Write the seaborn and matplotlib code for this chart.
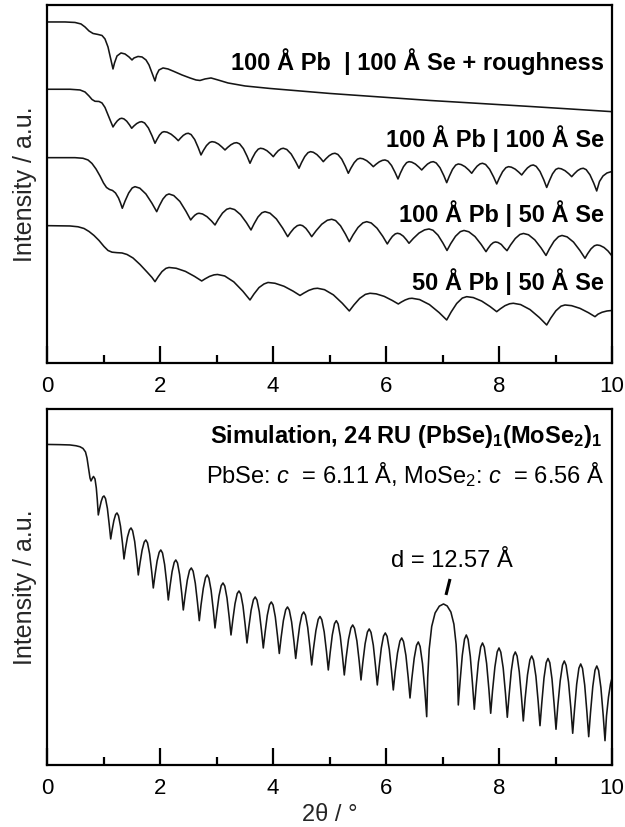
import matplotlib
matplotlib.use("Agg")
import matplotlib.pyplot as plt
import seaborn as sns
import pandas as pd
import numpy as np

# ---- digitisation calibration (reference picture pixels -> data units) ----
X0_PX = 47.0          # pixel column of 2theta = 0
PX_PER_DEG = 56.5     # pixels per degree 2theta
TOP_BASE = 363.0      # pixel row of the top panel x-axis (intensity 0, a.u.)
BOT_BASE = 765.0      # pixel row of the bottom panel x-axis

curve_rough = [(48,22),(65,22),(75,22.5),(81,24),(85,27),(89,31),(93,33.5),(98,34.5),(102,35.5),(105,39),
 (108,47),(110.5,58),(113,69),(114.5,63),(117,56),(121,53),(125,54),(129,57),(132,60),(134,58),(138,56.5),
 (142,57),(146,60),(149,65),(152,73),(155,81),(156.5,75),(159,70),(163,68),(168,69),(174,71.5),(182,75),
 (190,78),(196,80),(200,80.5),(205,79),(211,78),(218,80),(228,83),(245,86),(270,88.5),(300,91),(330,93.5),
 (380,97),(430,100.5),(480,103.5),(530,106.5),(570,109),(612,111.7)]

curve_100_100 = [(48,89.3),(70,89.3),(80,90),(85,92),(89,96),(92,99.5),(95,101.3),(99,101.5),(102,103),(105,107.5),(108,115),(110.5,121),(113,127),
 (114.9,124),(117.4,120.8),(119.8,118.8),(121.7,118.3),(123.9,118.9),(126.7,121.2),(129.5,124.9),(131.7,128.3),
 (133.9,126),(136.7,123.6),(139.5,122.1),(141.7,121.7),(144.6,123),(148.4,128),(152.1,136),(155,143.3),
 (157,139.4),(159.5,135.1),(162,132.4),(164,131.7),(167.1,132.2),(171.2,134.3),(175.2,137.6),(178.3,140.7),
 (180.5,138.2),(183.3,135.4),(186.1,133.7),(188.3,133.3),(191.1,134.6),(194.7,139.6),(198.2,147.6),(201,155),
 (203.4,150.5),(206.5,145.6),(209.6,142.5),(212,141.7),(214.9,142.2),(218.5,144.1),(222.1,147.2),(225,150),
 (227.6,147.5),(230.9,144.8),(234.1,143.1),(236.7,142.7),(239.6,143.9),(243.4,148.7),(247.1,156.3),(250,163.3),
 (252.3,158.2),(255.3,152.7),(258.2,149.2),(260.5,148.3),(263.3,148.8),(266.9,150.7),(270.5,153.8),(273.3,156.7),
 (275.5,153.8),(278.3,150.7),(281.1,148.8),(283.3,148.3),(286.8,149.5),(291.2,154.1),(295.5,161.5),(299,168.3),
 (301.5,162.7),(304.8,156.5),(308,152.7),(310.5,151.7),(313.3,152.3),(316.9,154.6),(320.5,158.3),(323.3,161.7),
 (325.9,158.8),(329.2,155.7),(332.4,153.8),(335,153.3),(337.9,154.5),(341.7,159.1),(345.4,166.5),(348.3,173.3),
 (350.9,168.2),(354.2,162.7),(357.4,159.2),(360,158.3),(362.9,158.8),(366.7,160.7),(370.4,163.8),(373.3,166.7),
 (375.9,164.4),(379.2,161.9),(382.4,160.4),(385,160),(387.9,161.1),(391.5,165.5),(395.1,172.5),(398,179),
 (400.4,173.1),(403.5,166.7),(406.6,162.7),(409,161.7),(411.8,162.2),(415.4,164.1),(418.9,167.2),(421.7,170),
 (424.3,167.2),(427.5,164.1),(430.7,162.2),(433.3,161.7),(436.2,163),(440,167.8),(443.8,175.6),(446.7,182.7),
 (449.3,176.3),(452.5,169.4),(455.7,165.1),(458.3,164),(461.2,164.6),(465,166.7),(468.8,170.1),(471.7,173.3),
 (474.1,169.9),(477.1,166.2),(480.1,163.9),(482.5,163.3),(485.6,164.5),(489.6,169.3),(493.6,177),(496.7,184),
 (499.3,178.1),(502.6,171.7),(505.9,167.7),(508.5,166.7),(511.4,167.2),(515.1,169.1),(518.8,172.2),(521.7,175),
 (524.3,171.6),(527.5,167.9),(530.7,165.6),(533.3,165),(536.2,166.4),(540,171.5),(543.8,179.9),(546.7,187.5),
 (549.3,181),(552.5,173.9),(555.7,169.5),(558.3,168.3),(561.2,168.8),(565,170.7),(568.8,173.8),(571.7,176.7),
 (574.3,173.8),(577.5,170.7),(580.7,168.8),(583.3,168.3),(586.2,169.7),(590,174.9),(593.8,183.3),(596.7,191),
 (599.5,181.5),(603,176),(607,173),(612,171.5)]

curve_100_50 = [(48,157.7),(75,157.7),(83,158.3),(88,160),(92,163.5),(96,169),(100,176),(103.5,183),(106.5,187.5),
 (109.5,189.5),(112.5,190.5),(115.5,193),(118.5,198),(120.5,203),(122.3,208.3),
 (125.1,201),(128.7,193),(132.2,188),(135,186.7),(139.8,188.2),(145.9,194),(151.9,203.2),(156.7,211.7),
 (159.4,205.7),(162.9,199.1),(166.3,195.1),(169,194),(173.8,195.6),(179.9,201.5),(185.9,211.2),(190.7,220),
 (192.5,217.7),(194.9,215.2),(197.2,213.7),(199,213.3),(202.5,214),(207,216.7),(211.5,221),(215,225),
 (218.3,219.3),(222.5,213.1),(226.7,209.3),(230,208.3),(234.6,209.6),(240.5,214.6),(246.4,222.6),(251,230),
 (254.1,223.8),(258,217),(261.9,212.8),(265,211.7),(270,213.2),(276.4,219),(282.7,228.2),(287.7,236.7),
 (290.4,232.7),(293.9,228.4),(297.3,225.7),(300,225),(302.6,225.7),(305.9,228.4),(309.1,232.7),(311.7,236.7),
 (316.1,230.8),(321.7,224.3),(327.3,220.3),(331.7,219.3),(335.6,220.6),(340.5,225.8),(345.4,234.1),(349.3,241.7),
 (353.1,234.9),(358,227.5),(362.9,222.9),(366.7,221.7),(371.2,223),(377,228.2),(382.8,236.4),(387.3,244),
 (389.5,240.4),(392.4,236.4),(395.3,233.9),(397.5,233.3),(400,233.9),(403.3,236.2),(406.5,239.9),(409,243.3),
 (413.4,238.4),(419,233.1),(424.6,229.9),(429,229),(433,230.3),(438,235.2),(443,243.2),(447,250.5),
 (450.7,243.7),(455.5,236.3),(460.3,231.7),(464,230.5),(468.8,231.8),(475,236.6),(481.2,244.5),(486,251.7),
 (488.1,248.4),(490.8,244.8),(493.4,242.6),(495.5,242),(498,242.5),(501.3,244.5),(504,247.7),(507,250.7),
 (510.6,244.9),(515.3,238.5),(519.9,234.5),(523.5,233.5),(528.5,234.8),(534.8,239.9),(541.1,248),(546,255.5),
 (549.5,248.7),(554,241.3),(558.5,236.7),(562,235.5),(567.1,236.9),(573.5,242.1),(579.9,250.5),(585,258.3),
 (587.6,253.8),(591,248.9),(594.4,245.8),(597,245),(600,245.5),(604,247.5),(608,251),(612,256)]

curve_50_50 = [(48,225.7),(70,226),(78,226.8),(84,228.5),(89,231.5),(94,235.5),(99,240.5),(104,246.5),(108,250.5),
 (112,252.2),(117,252.7),(122,253),(127,254.5),(133,258),(140,264.5),(147,272),(152,277.5),(155,281.7),
 (158.1,276.9),(162,271.6),(165.9,268.4),(169,267.5),(176.2,268.3),(185.4,271.4),(194.5,276.4),(201.7,281),
 (205.2,278.8),(209.6,276.4),(214,274.9),(217.5,274.5),(224.7,276),(233.8,281.9),(242.9,291.3),(250,300),
 (254,294),(259,287.6),(264,284),(268,282.5),(275,283.3),(284,286.3),(293,291.1),(300,295.5),
 (303.9,293.1),(308.8,290.4),(313.7,288.7),(317.5,288.3),(324.5,289.7),(333.4,294.9),(342.3,303.3),(349.3,311),
 (353.9,305),(359.7,298.4),(365.4,294.4),(370,293.3),(376.2,293.9),(384.2,296.4),(392.1,300.4),(398.3,304),
 (401.3,302.1),(405.2,300),(409,298.6),(412,298.3),(419.6,299.6),(429.4,304.6),(439.1,312.6),(446.7,320),
 (451.1,312.1),(456.7,303.5),(462.3,298.1),(466.7,296.7),(473.3,297.6),(481.7,301.1),(490.1,306.6),(496.7,311.7),
 (500.4,308.8),(505,305.7),(509.6,303.8),(513.3,303.3),(520.6,304.6),(530,309.6),(539.4,317.6),(546.7,325),
 (550.7,318.2),(555.9,310.8),(561,306.2),(565,305),(571.6,305.7),(580,308.4),(588.4,312.7),(595,316.7),
 (598,314.2),(602,312.3),(607,311),(612,310.5)]

curve_sim = [(48,444.5),(60,444.7),(70,445),(76,445.8),(80,446.8),(83,448.5),(85.5,452),(87,458),(88.5,468),(90,478),
 (91,481),(92.5,478),(93.5,476.5),(95,479),(96.3,488),(97.3,500),(98.3,515),
 (99.6,508.5),(101.2,501.5),(102.7,497.1),(104,496),(105.5,498.6),(107.4,508.5),(109.2,524.4),(110.7,539),
 (112.1,530.2),(113.9,520.5),(115.6,514.6),(117,513),(118.5,515.8),(120.5,526.3),(122.5,543.4),(124,559),
 (125.5,548.5),(127.5,537),(129.5,529.9),(131,528),(132.6,530.8),(134.7,541.6),(136.7,559),(138.3,575),
 (140,563.1),(142.1,550.2),(144.2,542.1),(145.8,540),(147.5,542.9),(149.6,553.9),(151.7,571.7),(153.3,588),
 (155,575.1),(157.1,561),(159.2,552.3),(160.8,550),(162.5,553),(164.6,564.5),(166.7,583),(168.3,600),
 (170,586.4),(172.1,571.6),(174.2,562.4),(175.8,560),(177.5,563),(179.6,574.5),(181.7,593),(183.3,610),
 (185.1,595.7),(187.3,580.2),(189.5,570.5),(191.3,568),(193.1,571.2),(195.3,583.3),(197.5,602.8),(199.3,620.7),
 (201,605.2),(203.3,588.3),(205.5,577.7),(207.2,575),(208.9,578.2),(211.1,590.4),(213.3,610),(215,628),
 (216.8,612.7),(219,596),(221.2,585.7),(223,583),(224.8,586.1),(227,598.1),(229.2,617.3),(231,635),
 (232.8,620),(235,603.8),(237.2,593.6),(239,591),(240.8,594.1),(243,606.1),(245.2,625.3),(247,643),
 (248.8,627.4),(251.1,610.3),(253.4,599.8),(255.2,597),(257,600.1),(259.3,611.8),(261.5,630.7),(263.3,648),
 (265.1,632.4),(267.3,615.3),(269.5,604.8),(271.3,602),(273.1,605.1),(275.3,616.9),(277.5,636),(279.3,653.5),
 (281.1,637.7),(283.4,620.5),(285.7,609.8),(287.5,607),(289.3,610.1),(291.6,621.9),(293.9,641),(295.7,658.5),
 (297.5,642.7),(299.7,625.5),(301.9,614.8),(303.7,612),(305.5,615.2),(307.7,627.4),(309.9,647),(311.7,665),
 (313.5,648.5),(315.9,630.6),(318.2,619.4),(320,616.5),(321.8,619.7),(324.2,632),(326.5,651.8),(328.3,670),
 (330.1,653.2),(332.3,635),(334.5,623.7),(336.3,620.7),(338.1,624),(340.3,636.4),(342.5,656.5),(344.3,675),
 (346.1,658),(348.5,639.5),(350.9,628),(352.7,625),(354.5,628.3),(356.9,641),(359.2,661.3),(361,680),
 (362.8,662.7),(365.1,643.8),(367.4,632.1),(369.2,629),(371,632.4),(373.3,645.2),(375.5,666),(377.3,685),
 (379.1,667.3),(381.3,648.1),(383.5,636.1),(385.3,633),(387.1,636.4),(389.3,649.5),(391.5,670.6),(393.3,690),
 (395.1,672.3),(397.5,653.1),(399.9,641.1),(401.7,638),(403.5,641.6),(405.9,655.4),(408.2,677.6),(410,698),
 (411.8,679),(414.2,658.2),(416.5,645.4),(418.3,642),(420.1,646.5),(422.5,663.7),(424.9,691.3),(426.7,716.7),
 (427.7,677.3),(429.2,649.1),(431.7,626.5),(435.1,613),(439.3,606.2),(443.5,604),
 (447.2,606),(450.9,612.1),(453.9,624.2),(456.1,644.4),(457.4,669.6),(458.3,705),
 (460.1,681.2),(462.3,655.3),(464.5,639.2),(466.3,635),(468.1,639.5),(470.3,656.5),(472.5,684),(474.3,709.3),
 (476.1,686.8),(478.4,662.2),(480.7,647),(482.5,643),(484.3,647.2),(486.6,663.4),(488.9,689.4),(490.7,713.3),
 (492.5,691.1),(494.9,667),(497.2,651.9),(499,648),(500.8,652.2),(503.2,668.1),(505.5,693.7),(507.3,717.3),
 (509.1,695.1),(511.3,670.9),(513.5,655.9),(515.3,652),(517.1,656.1),(519.3,672),(521.5,697.5),(523.3,721),
 (525.1,698.9),(527.5,674.9),(529.9,659.9),(531.7,656),(533.5,660.2),(535.9,676.2),(538.2,702),(540,725.7),
 (541.8,702.9),(544,678),(546.2,662.6),(548,658.5),(549.8,662.7),(552,679),(554.2,705.2),(556,729.3),
 (557.8,706.1),(560.2,680.8),(562.5,665.1),(564.3,661),(566.1,665.3),(568.5,682),(570.9,708.7),(572.7,733.3),
 (574.5,709.7),(576.7,684.1),(578.9,668.2),(580.7,664),(582.5,668.4),(584.7,685.1),(586.9,712),(588.7,736.7),
 (590.5,712.7),(592.8,686.5),(595,670.2),(596.8,666),(598.6,670.5),(600.9,687.7),(603.2,715.3),(605,740.7),
 (606.5,716),(608.5,697),(610.5,684),(612,678)]

top_labels = ["100 Å Pb  | 100 Å Se + roughness", "100 Å Pb | 100 Å Se",
              "100 Å Pb | 50 Å Se", "50 Å Pb | 50 Å Se"]
sim_title = r"Simulation, 24 RU (PbSe)$_\mathbf{1}$(MoSe$_\mathbf{2}$)$_\mathbf{1}$"
sim_params = r"PbSe: $c$  = 6.11 Å, MoSe$_2$: $c$  = 6.56 Å"
peak_label = "d = 12.57 Å"
x_major = [0, 2, 4, 6, 8, 10]
x_minor = [1, 3, 5, 7, 9]

sns.set_theme(style="ticks")
plt.rcParams.update({
    "font.family": ["Liberation Sans", "DejaVu Sans"],
    "mathtext.fontset": "custom",
    "mathtext.rm": "Liberation Sans",
    "mathtext.it": "Liberation Sans:italic",
    "mathtext.bf": "Liberation Sans:bold",
    "axes.edgecolor": "black",
    "xtick.color": "black",
    "text.color": "black",
})

FS = 17

def to_df(pts, base):
    a = np.array(pts, dtype=float)
    return pd.DataFrame({"two_theta": (a[:, 0] - X0_PX) / PX_PER_DEG,
                         "intensity": base - a[:, 1]})

fig = plt.figure(figsize=(6.25, 8.27), dpi=100)
ax1 = fig.add_axes([0.0752, 0.5611, 0.904, 0.4329])
ax2 = fig.add_axes([0.0752, 0.0750, 0.904, 0.4305])

LC = "#151515"
for pts in [curve_rough, curve_100_100, curve_100_50, curve_50_50]:
    sns.lineplot(data=to_df(pts, TOP_BASE), x="two_theta", y="intensity", ax=ax1,
                 color=LC, lw=1.15, sort=False, estimator=None)
sns.lineplot(data=to_df(curve_sim, BOT_BASE), x="two_theta", y="intensity", ax=ax2,
             color=LC, lw=1.15, sort=False, estimator=None)

for ax, top in [(ax1, 358), (ax2, 356)]:
    ax.set_xlim(0, 10)
    ax.set_ylim(0, top)
    ax.set_yticks([])
    ax.set_xticks(x_major)
    ax.set_xticks(x_minor, minor=True)
    ax.set_xticklabels([str(v) for v in x_major])
    ax.tick_params(axis="x", which="major", direction="in", length=12, width=1.6,
                   labelsize=16, pad=9.5, top=False)
    ax.tick_params(axis="x", which="minor", direction="in", length=6, width=1.6, top=False)
    for s in ax.spines.values():
        s.set_visible(True)
        s.set_linewidth(1.6)
        s.set_color("black")
    ax.set_ylabel("Intensity / a.u.", fontsize=18)
    ax.yaxis.set_label_coords(-0.018, 0.5)
    ax.set_xlabel("")

ax2.set_xlabel("2θ / °", fontsize=FS, labelpad=3.5)

ys = [0.8184, 0.6042, 0.3947, 0.2039]
for lab, y in zip(top_labels, ys):
    ax1.text(0.9858, y, lab, transform=ax1.transAxes, ha="right", va="baseline",
             fontsize=FS, fontweight="bold")

ax2.text(0.982, 0.9053, sim_title, transform=ax2.transAxes, ha="right", va="baseline",
         fontsize=FS, fontweight="bold")
ax2.text(0.9858, 0.7913, sim_params, transform=ax2.transAxes, ha="right", va="baseline",
         fontsize=FS)
ax2.text(7.17, 198.3, peak_label, ha="center", va="baseline", fontsize=FS)
ax2.plot([7.062, 7.133], [170, 186], color="black", lw=2.2, solid_capstyle="butt")

fig.savefig("out.png", dpi=100)
